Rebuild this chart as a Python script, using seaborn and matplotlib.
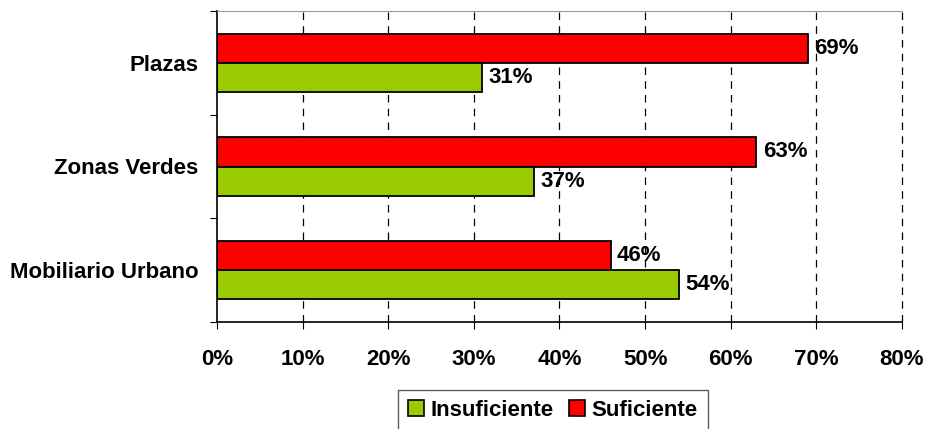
import matplotlib
matplotlib.use("Agg")
import matplotlib.pyplot as plt
from matplotlib.patches import Patch
from matplotlib.ticker import PercentFormatter, FixedLocator
import seaborn as sns
import pandas as pd

categories = ["Plazas", "Zonas Verdes", "Mobiliario Urbano"]
suficiente = [69, 63, 46]
insuficiente = [31, 37, 54]
series_names = ["Insuficiente", "Suficiente"]
colors = {"Suficiente": "#FF0000", "Insuficiente": "#99CC00"}

df = pd.DataFrame({
    "Zona": categories * 2,
    "Valor": suficiente + insuficiente,
    "Serie": ["Suficiente"] * 3 + ["Insuficiente"] * 3,
})

sns.set_style("white")
plt.rcParams["font.family"] = ["Liberation Sans", "DejaVu Sans"]
plt.rcParams["font.weight"] = "bold"
plt.rcParams["text.color"] = "black"
plt.rcParams["xtick.color"] = "black"
plt.rcParams["ytick.color"] = "black"

fig = plt.figure(figsize=(9.29, 4.29), dpi=100)
ax = fig.add_axes([217 / 929, 1 - 322 / 429, 685 / 929, 311 / 429])

sns.barplot(data=df, y="Zona", x="Valor", hue="Serie", order=categories,
            hue_order=["Suficiente", "Insuficiente"], palette=colors,
            saturation=1, orient="h", width=0.56, edgecolor="black", linewidth=1.3,
            legend=False, ax=ax)

for cont in ax.containers:
    ax.bar_label(cont, labels=[f"{int(b.get_width())}%" for b in cont],
                 padding=4.5, fontsize=16, fontweight="bold", color="black")

ax.set_xlim(0, 80)
ax.set_ylim(2.5, -0.5)
ax.xaxis.set_major_locator(FixedLocator(range(0, 81, 10)))
ax.xaxis.set_major_formatter(PercentFormatter(100, decimals=0))
for x in range(10, 81, 10):
    ax.axvline(x, color="black", linestyle=(0, (6, 5)), linewidth=0.9, zorder=0, clip_on=False)

ax.yaxis.set_minor_locator(FixedLocator([-0.5, 0.5, 1.5, 2.5]))
ax.tick_params(axis="y", which="major", length=0, pad=13.5, labelsize=16)
ax.tick_params(axis="y", which="minor", length=5, width=0.8, color="black", direction="out", left=True)
ax.tick_params(axis="x", length=5, width=0.8, color="black", direction="out", bottom=True, pad=14.5, labelsize=16)
for lab in ax.get_xticklabels() + ax.get_yticklabels():
    lab.set_fontweight("bold")

ax.set_xlabel("")
ax.set_ylabel("")
ax.spines["left"].set_color("black")
ax.spines["bottom"].set_color("black")
ax.spines["left"].set_linewidth(1.2)
ax.spines["bottom"].set_linewidth(1.2)
ax.spines["top"].set_color("#999999")
ax.spines["right"].set_visible(False)

handles = [Patch(facecolor=colors[n], edgecolor="black", linewidth=1.2, label=n) for n in series_names]
leg = fig.legend(handles=handles, loc="lower center", bbox_to_anchor=(553 / 929, -0.03),
                 ncol=2, frameon=True, fancybox=False, edgecolor="#333333",
                 handlelength=0.7, handleheight=0.7, handletextpad=0.3, columnspacing=0.7,
                 borderpad=0.45, prop={"size": 16, "weight": "bold"})
leg.get_frame().set_linewidth(1.0)

fig.savefig("out.png", dpi=100)
